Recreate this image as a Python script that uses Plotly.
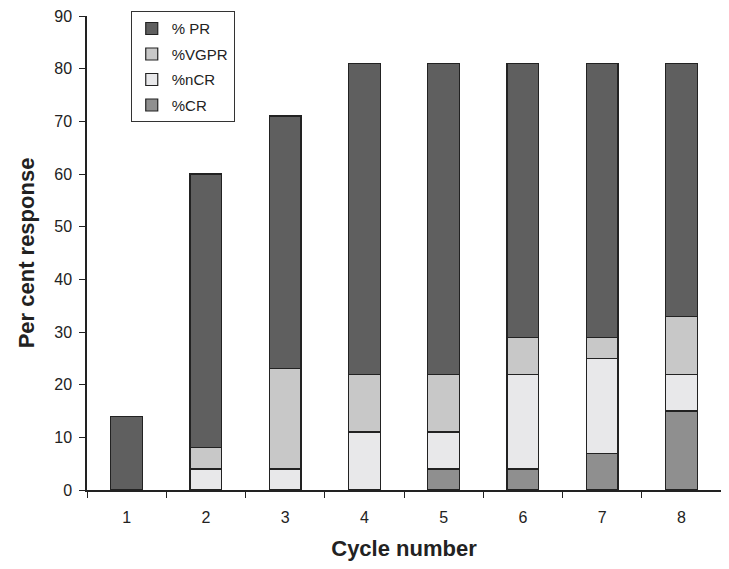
import plotly.graph_objects as go

cycles = ["1", "2", "3", "4", "5", "6", "7", "8"]
cr = [0, 0, 0, 0, 4, 4, 7, 15]
ncr = [0, 4, 4, 11, 7, 18, 18, 7]
vgpr = [0, 4, 19, 11, 11, 7, 4, 11]
pr = [14, 52, 48, 59, 59, 52, 52, 48]

series = [
    ("%CR", cr, "#8f8f8f", 4),
    ("%nCR", ncr, "#e8e8ea", 3),
    ("%VGPR", vgpr, "#c8c8c8", 2),
    ("% PR", pr, "#5f5f5f", 1),
]

fig = go.Figure()
for name, vals, col, rank in series:
    fig.add_trace(go.Bar(
        x=cycles, y=vals, name=name, legendgroup=name, legendrank=rank,
        marker=dict(color=col, line=dict(color="#222222", width=1.2)),
        width=0.4,
    ))

font = "Liberation Sans, Arial, sans-serif"
fig.update_layout(
    barmode="stack",
    width=729, height=569,
    margin=dict(l=79, r=16, t=8, b=87, autoexpand=False),
    plot_bgcolor="white", paper_bgcolor="white",
    font=dict(family=font, color="#222222", size=16),
    showlegend=True,
    legend=dict(
        x=0.069, y=1.01, xanchor="left", yanchor="top",
        bordercolor="#333333", borderwidth=1, bgcolor="white",
        font=dict(size=15, family=font, color="#222222"),
        traceorder="grouped", tracegroupgap=3,
        itemwidth=30,
    ),
    xaxis=dict(
        type="category", tickson="boundaries", ticks="outside", ticklen=6,
        tickcolor="#222222", showline=True, linecolor="#222222", linewidth=1.5,
        showgrid=False, range=[-0.5, 7.5], automargin=False,
        ticklabelstandoff=12,
        title=dict(text="<b>Cycle number</b>", font=dict(size=22, family=font), standoff=16),
        tickfont=dict(size=16),
    ),
    yaxis=dict(
        range=[0, 90.001], tickvals=list(range(0, 91, 10)), ticks="outside", ticklen=6,
        tickcolor="#222222", showline=True, linecolor="#222222", linewidth=1.5,
        showgrid=False, zeroline=False, automargin=False,
        ticklabelstandoff=4, ticklabeloverflow="allow",
        title=dict(text="<b>Per cent response</b>", font=dict(size=22, family=font), standoff=14),
        tickfont=dict(size=16),
    ),
)

fig.write_html("out.html")
